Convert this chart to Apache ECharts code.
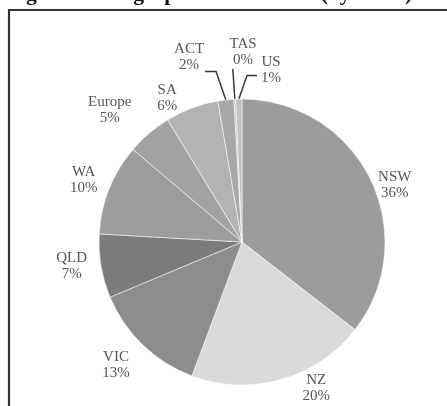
<!DOCTYPE html>
<html><head><meta charset="utf-8">
<script src="https://cdn.jsdelivr.net/npm/echarts@6/dist/echarts.min.js"></script>
<style>html,body{margin:0;padding:0;background:#fff}#c{width:447px;height:406px}</style>
</head><body><div id="c"></div>
<script>
var categories = ['NSW','NZ','VIC','QLD','WA','Europe','SA','ACT','TAS','US'];
var values = [35.5,20.2,13.0,7.2,10.3,5.1,6.0,1.8,0.2,0.7];
var colors = ['#9c9c9e','#dadada','#8d8d8f','#7b7b7d','#9d9d9f','#a3a3a5','#b3b3b5','#a8a8aa','#bdbdbd','#c2c2c4'];
var labelAngles = [20.4,-63.1,-135.7,-172,158.6,135,117.5,106,89.7,80.4];
var labelDists = [163,164,176,172,170,187,162,192,190,174];
var titleText = 'Figure 6: Geographical allocation (by value)';

var CX=242, CY=242, R=143;
var total = values.reduce(function(a,b){return a+b;},0);
var mids=[]; var acc=0;
values.forEach(function(v){ var s=90-acc/total*360; var e=90-(acc+v)/total*360; mids.push((s+e)/2); acc+=v;});

var data = categories.map(function(c,i){
  return {name:c, value:values[i], itemStyle:{color:colors[i]}, labelLine:{show: values[i]<3}};
});

var chart = echarts.init(document.getElementById('c'), null, {renderer:'canvas'});
chart.setOption({
  animation:false,
  backgroundColor:'#ffffff',
  graphic:[
    {type:'text', silent:true, style:{x:7, y:-6, text:titleText, fill:'#111', font:'bold 21.5px "Liberation Serif"', verticalAlign:'middle'}},
    {type:'rect', silent:true, shape:{x:9, y:10, width:600, height:600}, style:{fill:'none', stroke:'#333', lineWidth:2.2}}
  ],
  series:[{
    type:'pie',
    center:[CX,CY],
    radius:[0,R],
    startAngle:90,
    clockwise:true,
    avoidLabelOverlap:false,
    silent:true,
    data:data,
    itemStyle:{borderColor:'rgba(255,255,255,0.55)', borderWidth:1},
    label:{
      show:true, position:'outside',
      fontFamily:'Liberation Serif', fontSize:15, lineHeight:16, color:'#555555',
      formatter:function(p){ return p.name + '\n' + Math.round(p.value) + '%'; }
    },
    labelLine:{show:false, lineStyle:{color:'#3a3a3a', width:1.5}},
    labelLayout:function(p){
      var i=p.dataIndex;
      var a=labelAngles[i]*Math.PI/180, d=labelDists[i];
      var x=CX+d*Math.cos(a), y=CY-d*Math.sin(a);
      var res={x:x, y:y, align:'center', verticalAlign:'middle'};
      if(values[i]<3){
        var m=mids[i]*Math.PI/180;
        var ax=CX+R*Math.cos(m), ay=CY-R*Math.sin(m);
        var w=p.labelRect.width, h=p.labelRect.height;
        var left=x-w/2, right=x+w/2, bottom=y+h/2;
        var pts, ex, ey;
        if(right<ax){ ex=right+1; ey=bottom-2; pts=[[ax,ay],[ex+11,ey],[ex,ey]]; }
        else if(left>ax+10){ ex=left-4; ey=y+5; pts=[[ax,ay],[ex-10,ey],[ex,ey]]; }
        else { pts=[[ax,ay],[ax-2,bottom+1]]; }
        res.labelLinePoints=pts;
      }
      return res;
    }
  }]
});
</script>
</body></html>
